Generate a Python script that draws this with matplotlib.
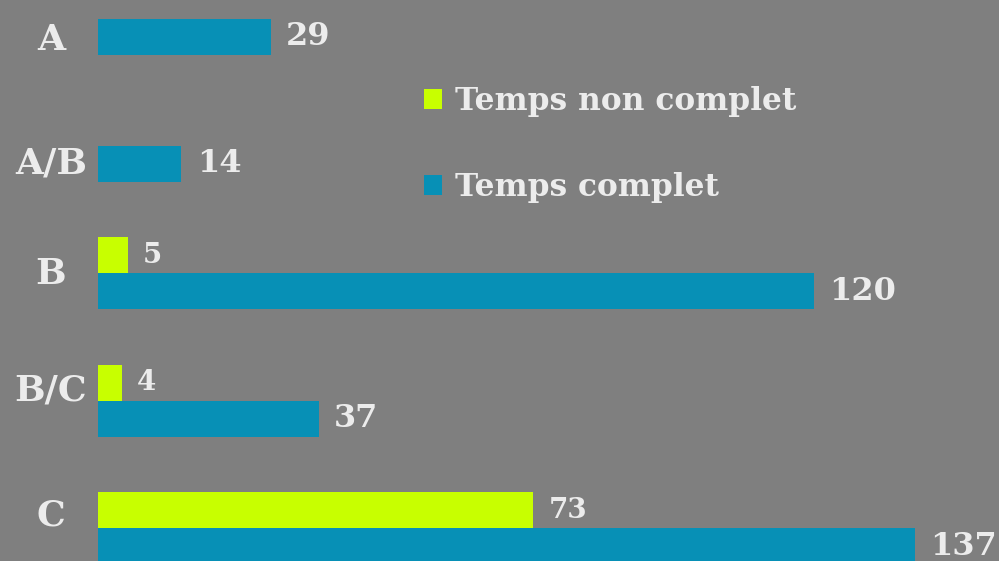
import matplotlib
matplotlib.use("Agg")
import matplotlib.pyplot as plt
from matplotlib.patches import Patch

# ── data ──────────────────────────────────────────────────────────────────────
categories = ["A", "A/B", "B", "B/C", "C"]
temps_complet = [29, 14, 120, 37, 137]
temps_non_complet = [None, None, 5, 4, 73]

# ── style ─────────────────────────────────────────────────────────────────────
BG = "#7f7f7f"
BLUE = "#0790b6"
GREEN = "#c8ff00"
FG = "#ececec"
FONT = "DejaVu Serif"

W, H, DPI = 999, 561, 100
X0_PX, PX_PER_UNIT = 98, 5.964      # bar origin and horizontal scale
SLOT_PX, TOP_PX = 127.4, 36.5       # vertical spacing of categories
BAR_H = 36 / SLOT_PX
LABEL_SHIFT_PX = [3.5, 0, -17.5, -28, -31]

fig = plt.figure(figsize=(W / DPI, H / DPI), dpi=DPI, facecolor=BG)
ax = fig.add_axes([0, 0, 1, 1])
ax.set_facecolor(BG)
ax.set_xlim(-X0_PX / PX_PER_UNIT, (W - X0_PX) / PX_PER_UNIT)
ax.set_ylim((H - TOP_PX) / SLOT_PX, -TOP_PX / SLOT_PX)
ax.axis("off")

ys = list(range(len(categories)))
ax.barh(ys, temps_complet, height=BAR_H, color=BLUE, align="center")
for y, v in zip(ys, temps_complet):
    ax.annotate(str(v), (v, y), xytext=(11, 0), textcoords="offset points",
                va="center", ha="left", color=FG, fontsize=23,
                fontweight="bold", fontfamily=FONT)

for y, v in zip(ys, temps_non_complet):
    if v is None:
        continue
    ax.barh(y - BAR_H, v, height=BAR_H, color=GREEN, align="center")
    ax.annotate(str(v), (v, y - BAR_H), xytext=(11, 0), textcoords="offset points",
                va="center", ha="left", color=FG, fontsize=20,
                fontweight="bold", fontfamily=FONT)

# category labels
label_x = (51 - X0_PX) / PX_PER_UNIT
for y, cat, shift in zip(ys, categories, LABEL_SHIFT_PX):
    ax.text(label_x, y + shift / SLOT_PX, cat, ha="center", va="center",
            color=FG, fontsize=26, fontweight="bold", fontfamily=FONT)

handles = [Patch(facecolor=GREEN, label="Temps non complet"),
           Patch(facecolor=BLUE, label="Temps complet")]
leg = fig.legend(handles=handles, loc="upper left",
                 bbox_to_anchor=(424 / W, 1 - 86 / H), frameon=False,
                 prop={"family": FONT, "weight": "bold", "size": 22.5},
                 handlelength=0.58, handleheight=0.58, handletextpad=0.42,
                 labelspacing=1.76, borderpad=0, borderaxespad=0)
for t in leg.get_texts():
    t.set_color(FG)

fig.savefig("out.png", dpi=DPI, facecolor=BG)
